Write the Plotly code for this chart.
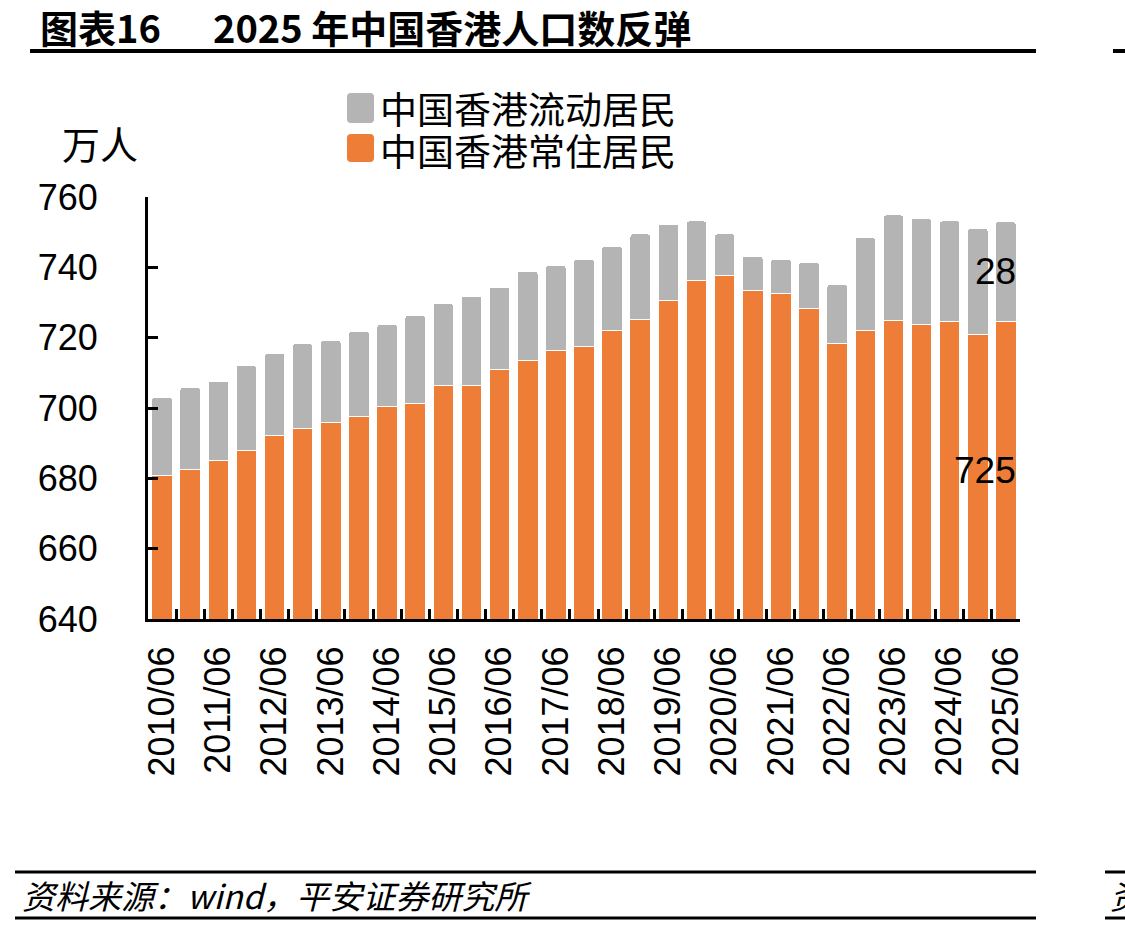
import plotly.graph_objects as go

# ---- data (万人) ----
periods = []
for yr in range(2010, 2026):
    periods.append(f"{yr}/06")
    if yr < 2025:
        periods.append(f"{yr}/12")

resident = [680.8, 682.4, 685.1, 687.9, 692.2, 694.3, 695.8, 697.6, 700.5, 701.2,
            706.4, 706.4, 711.0, 713.6, 716.4, 717.4, 721.9, 725.2, 730.7, 736.2,
            737.8, 733.5, 732.6, 728.3, 718.3, 722.1, 724.8, 723.8, 724.7, 721.0, 724.6]
mobile = [22.3, 23.4, 22.5, 24.2, 23.3, 24.0, 23.4, 24.1, 23.2, 25.1,
          23.3, 25.4, 23.3, 25.3, 24.1, 24.9, 24.1, 24.3, 21.6, 17.0,
          11.7, 9.7, 9.7, 13.2, 16.8, 26.4, 30.1, 30.1, 28.5, 30.1, 28.4]
tick_text = [p if p.endswith("/06") else "" for p in periods]
y_ticks = [640, 660, 680, 700, 720, 740, 760]

name_resident = "中国香港常住居民"
name_mobile = "中国香港流动居民"

ORANGE = "#EE7D37"
GRAY = "#B4B4B4"
FONT = "Liberation Sans, Noto Sans CJK SC, sans-serif"
CJK = "Noto Sans CJK SC, Liberation Sans, sans-serif"

W, H = 1125, 927
L, R, T, B = 148, 105, 197, 308
PW, PH = W - L - R, H - T - B


def fx(px):
    return (px - L) / PW


def fy(py):
    return (H - B - py) / PH


fig = go.Figure()
fig.add_trace(go.Bar(x=periods, y=resident, name=name_resident,
                     marker=dict(color=ORANGE, line=dict(color="white", width=1), cornerradius=3),
                     showlegend=False))
fig.add_trace(go.Bar(x=periods, y=mobile, name=name_mobile,
                     marker=dict(color=GRAY, line=dict(color="white", width=1), cornerradius=3),
                     showlegend=False))

shapes = []
annotations = []

# title line & footer lines
def hline(x0, x1, py, w=3):
    shapes.append(dict(type="line", xref="paper", yref="paper",
                       x0=fx(x0), x1=fx(x1), y0=fy(py), y1=fy(py),
                       line=dict(color="black", width=w)))

hline(30, 1036, 51, 4)
hline(1113, 1126, 51, 4)
hline(15, 1036, 872, 3)
hline(15, 1036, 918, 3)
hline(1105, 1126, 872, 3)
hline(1105, 1126, 918, 3)

# title
annotations.append(dict(text="<b>图表16</b>", xref="paper", yref="paper",
                        x=fx(38), y=fy(26), xanchor="left", yanchor="middle",
                        showarrow=False, font=dict(family=CJK, size=38, color="black")))
annotations.append(dict(text="<b>2025 年中国香港人口数反弹</b>", xref="paper", yref="paper",
                        x=fx(211), y=fy(26), xanchor="left", yanchor="middle",
                        showarrow=False, font=dict(family=CJK, size=38, color="black")))
# source
annotations.append(dict(text="<i>资料来源：wind，平安证券研究所</i>", xref="paper", yref="paper",
                        x=fx(20), y=fy(895), xanchor="left", yanchor="middle",
                        showarrow=False, font=dict(family=CJK, size=33, color="black")))
annotations.append(dict(text="<i>资</i>", xref="paper", yref="paper",
                        x=fx(1108), y=fy(895), xanchor="left", yanchor="middle",
                        showarrow=False, font=dict(family=CJK, size=33, color="black")))
# unit
annotations.append(dict(text="万人", xref="paper", yref="paper",
                        x=fx(100), y=fy(143), xanchor="center", yanchor="middle",
                        showarrow=False, font=dict(family=CJK, size=38, color="black")))

# manual legend
def rrect(x0, y0, x1, y1, r, color):
    X0, X1 = fx(x0), fx(x1)
    Y0, Y1 = fy(y0), fy(y1)
    rx, ry = r / PW, r / PH
    path = (f"M {X0+rx},{Y0} L {X1-rx},{Y0} Q {X1},{Y0} {X1},{Y0-ry} "
            f"L {X1},{Y1+ry} Q {X1},{Y1} {X1-rx},{Y1} L {X0+rx},{Y1} "
            f"Q {X0},{Y1} {X0},{Y1+ry} L {X0},{Y0-ry} Q {X0},{Y0} {X0+rx},{Y0} Z")
    shapes.append(dict(type="path", xref="paper", yref="paper", path=path,
                       fillcolor=color, line=dict(width=0)))

rrect(347, 93, 374, 123, 4, GRAY)
rrect(347, 134, 374, 162, 4, ORANGE)
annotations.append(dict(text=name_mobile, xref="paper", yref="paper",
                        x=fx(378), y=fy(108), xanchor="left", yanchor="middle",
                        showarrow=False, font=dict(family=CJK, size=37, color="black")))
annotations.append(dict(text=name_resident, xref="paper", yref="paper",
                        x=fx(378), y=fy(150), xanchor="left", yanchor="middle",
                        showarrow=False, font=dict(family=CJK, size=37, color="black")))

# value labels for last bar
last = len(periods) - 1
annotations.append(dict(text=f"{round(resident[last])}", x=periods[last],
                        y=(640 + resident[last]) / 2, xref="x", yref="y",
                        xanchor="right", yanchor="middle", xshift=12, showarrow=False,
                        font=dict(family=FONT, size=37, color="black")))
annotations.append(dict(text=f"{round(mobile[last])}", x=periods[last],
                        y=resident[last] + mobile[last] / 2, xref="x", yref="y",
                        xanchor="right", yanchor="middle", xshift=12, showarrow=False,
                        font=dict(family=FONT, size=37, color="black")))

fig.update_layout(
    width=W, height=H,
    margin=dict(l=L, r=R, t=T, b=B, pad=0),
    barmode="stack", bargap=0.27,
    plot_bgcolor="white", paper_bgcolor="white",
    font=dict(family=FONT, size=36, color="black"),
    shapes=shapes, annotations=annotations,
    showlegend=False,
)
fig.update_xaxes(type="category", tickmode="array", tickvals=periods, ticktext=tick_text,
                 tickangle=-90, tickson="boundaries", ticks="inside", ticklen=10,
                 tickwidth=3, tickcolor="black", showline=True, linewidth=3,
                 linecolor="black", showgrid=False, zeroline=False,
                 tickfont=dict(family=FONT, size=36, color="black"),
                 ticklabelstandoff=10, range=[-0.5, len(periods) - 0.5])
fig.update_yaxes(range=[640, 760], tickvals=y_ticks, ticks="inside", ticklen=10,
                 tickwidth=3, tickcolor="black", showline=True, linewidth=3,
                 linecolor="black", showgrid=False, zeroline=False,
                 tickfont=dict(family=FONT, size=36, color="black"),
                 ticklabelstandoff=40)

fig.write_html("out.html")
